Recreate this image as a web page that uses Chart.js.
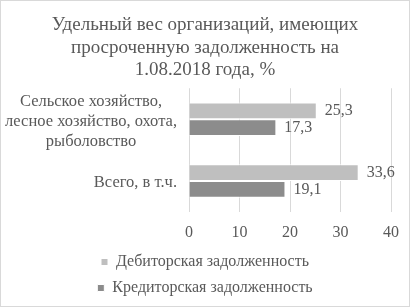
<!DOCTYPE html>
<html>
<head>
<meta charset="utf-8">
<script src="https://cdn.jsdelivr.net/npm/chart.js@4/dist/chart.umd.min.js"></script>
<style>
  body { margin: 0; background: #fff; }
  #wrap { width: 410px; height: 307px; box-sizing: border-box; border: 1px solid #d9d9d9; }
</style>
</head>
<body>
<div id="wrap"><canvas id="debtChart"></canvas></div>
<script>
const titleLines = ["Удельный вес организаций, имеющих", "просроченную задолженность на", "1.08.2018 года, %"];
const categories = [
  ["Сельское хозяйство,", "лесное хозяйство, охота,", "рыболовство"],
  ["Всего, в т.ч."]
];
const seriesNames = ["Дебиторская задолженность", "Кредиторская задолженность"];
const debitValues = [25.3, 33.6];
const creditValues = [17.3, 19.1];
const xTicks = [0, 10, 20, 30, 40];

const textColor = "#595959";
const serif = "'Liberation Serif', serif";

// value labels at the end of each bar
const valueLabels = {
  id: "valueLabels",
  afterDatasetsDraw(chart) {
    const ctx = chart.ctx;
    ctx.save();
    ctx.font = "16px " + serif;
    ctx.fillStyle = textColor;
    ctx.textAlign = "left";
    ctx.textBaseline = "middle";
    chart.data.datasets.forEach((ds, i) => {
      chart.getDatasetMeta(i).data.forEach((bar, j) => {
        ctx.fillText(String(ds.data[j]).replace(".", ","), bar.x + 8, bar.y);
      });
    });
    ctx.restore();
  }
};

// category labels: block right-aligned, lines centred inside the block
const categoryLabels = {
  id: "categoryLabels",
  afterDraw(chart) {
    const ctx = chart.ctx;
    const y = chart.scales.y;
    const right = chart.chartArea.left - 12;
    const lh = 20;
    ctx.save();
    ctx.font = "16.5px " + serif;
    ctx.fillStyle = textColor;
    ctx.textAlign = "center";
    ctx.textBaseline = "middle";
    categories.forEach((lines, i) => {
      const w = Math.max(...lines.map(l => ctx.measureText(l).width));
      const cx = right - w / 2;
      const cy = y.getPixelForValue(i) + 2;
      lines.forEach((l, k) => {
        ctx.fillText(l, cx, cy + (k - (lines.length - 1) / 2) * lh);
      });
    });
    ctx.restore();
  }
};

new Chart(document.getElementById("debtChart"), {
  type: "bar",
  data: {
    labels: categories,
    datasets: [{
      label: seriesNames[0],
      data: debitValues,
      backgroundColor: "#bfbfbf",
      borderColor: "#ffffff",
      borderWidth: 1,
      barPercentage: 1,
      categoryPercentage: 0.54
    }, {
      label: seriesNames[1],
      data: creditValues,
      backgroundColor: "#8c8c8c",
      borderColor: "#ffffff",
      borderWidth: 1,
      barPercentage: 1,
      categoryPercentage: 0.54
    }]
  },
  options: {
    indexAxis: "y",
    responsive: true,
    maintainAspectRatio: false,
    animation: false,
    layout: { padding: { top: 4, right: 0, left: 0, bottom: 0 } },
    plugins: {
      title: {
        display: true,
        text: titleLines,
        color: textColor,
        font: { family: serif, size: 19, weight: "normal", lineHeight: 1.18 },
        padding: { top: 9, bottom: 7 }
      },
      legend: {
        position: "bottom",
        labels: {
          color: textColor,
          font: { family: serif, size: 16 },
          boxWidth: 7,
          boxHeight: 7,
          padding: 10
        }
      },
      tooltip: { enabled: false }
    },
    scales: {
      x: {
        min: 0,
        max: 40,
        afterBuildTicks: (s) => { s.ticks = xTicks.map(v => ({ value: v })); },
        afterFit: (s) => { s.height = 32; s.paddingRight = 18; },
        grid: { color: "#d9d9d9", drawTicks: false },
        border: { display: false },
        ticks: { color: textColor, font: { family: serif, size: 16 }, padding: 11 }
      },
      y: {
        afterFit: (s) => { s.width = 188; },
        grid: { display: false },
        border: { display: false },
        ticks: { display: false }
      }
    }
  },
  plugins: [valueLabels, categoryLabels]
});
</script>
</body>
</html>
